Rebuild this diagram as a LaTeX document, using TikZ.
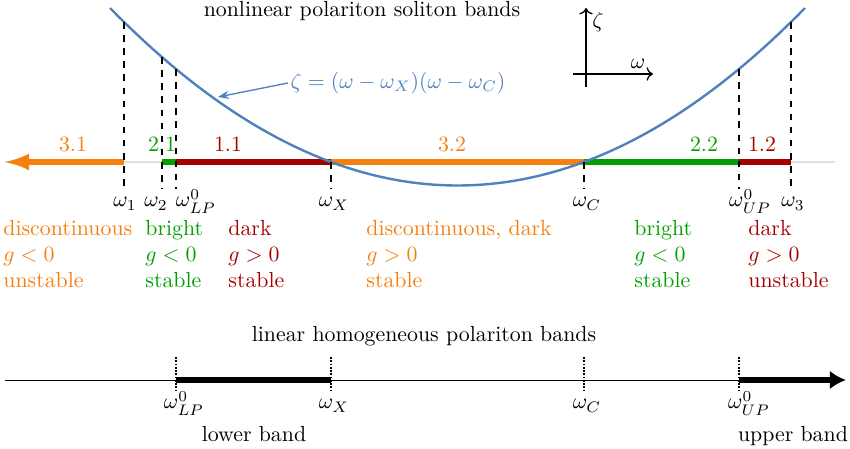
\documentclass[tikz,border=0pt]{standalone}
\usetikzlibrary{arrows.meta}
\definecolor{solorange}{RGB}{245,128,15}
\definecolor{solgreen}{RGB}{0,160,0}
\definecolor{soldark}{RGB}{165,0,0}
\definecolor{curveblue}{RGB}{79,129,189}

\begin{document}
\begin{tikzpicture}[x=0.0161cm, y=-0.0161cm,
    band/.style={line width=2.75pt},
    lbl/.style={anchor=base, inner sep=0pt},
    info/.style={anchor=base west, align=left, inner sep=0pt}]
  \useasboundingbox (0,0) rectangle (850,449);
  % nonlinear soliton bands
  \node[lbl] (toptitle) at (362,17) {nonlinear polariton soliton bands};
  \draw[gray!25, semithick] (5,162) -- (835,162);
  \foreach \n/\x in {w1/124, w2/162, wlp/176, wx/331, wc/584, wup/739, w3/791}{
    \coordinate (\n) at (\x,162);
  }
  \coordinate (wleft) at (3,162);
  \draw[band, solorange, -{Latex[length=0.42cm,width=0.27cm]}] (w1) -- (wleft);
  \foreach \a/\b/\c in {w2/wlp/solgreen, wlp/wx/soldark, wx/wc/solorange, wc/wup/solgreen, wup/w3/soldark}{
    \draw[band, \c] (\a) -- (\b);
  }
  \foreach \n/\x/\c/\txt in {b31/73/solorange/3.1, b21/162/solgreen/2.1, b11/228/soldark/1.1,
      b32/452/solorange/3.2, b22/704/solgreen/2.2, b12/762/soldark/1.2}{
    \node[lbl, text=\c] (\n) at (\x,152) {\txt};
  }
  \draw[curveblue, line width=1.1pt] plot[domain=110:805, samples=80]
    (\x, {162-14.7*(\x-331)/100*(\x-584)/100});
  \foreach \n/\x/\lx/\txt in {w1/124/125/{\omega_1}, w2/162/156/{\omega_2}, wlp/176/196/{\omega^0_{LP}},
      wx/331/334/{\omega_X}, wc/584/587/{\omega_C}, wup/739/750/{\omega^0_{UP}}, w3/791/793/{\omega_3}}{
    \draw[dashed, semithick] (\x, {162-14.7*(\x-331)/100*(\x-584)/100}) -- (\x,189);
    \node[lbl] (l\n) at (\lx,207) {$\txt$};
  }
  \node[text=curveblue, anchor=west, inner sep=1pt] (eq) at (288,83)
    {$\zeta=(\omega-\omega_X)(\omega-\omega_C)$};
  \coordinate (hit) at (218,97);
  \draw[curveblue, semithick, -{Stealth[length=5pt]}] (eq.west) -- (hit);
  % small axes
  \draw[->, semithick] (586,87) -- (586,8);
  \draw[->, semithick] (573,74) -- (653,74);
  \node (zeta) at (598,22) {$\zeta$};
  \node (omega) at (638,64) {$\omega$};
  % soliton types (base = last line)
  \node[info, text=solorange] (i31) at (3,288) {discontinuous\\ $g<0$\\ unstable};
  \node[info, text=solgreen] (i21) at (145,288) {bright\\ $g<0$\\ stable};
  \node[info, text=soldark] (i11) at (228,288) {dark\\ $g>0$\\ stable};
  \node[info, text=solorange] (i32) at (366,288) {discontinuous, dark\\ $g>0$\\ stable};
  \node[info, text=solgreen] (i22) at (634,288) {bright\\ $g<0$\\ stable};
  \node[info, text=soldark] (i12) at (748,288) {dark\\ $g>0$\\ unstable};
  % linear bands
  \node[lbl] (bottitle) at (424,342) {linear homogeneous polariton bands};
  \draw[thin] (5,380) -- (838,380);
  \foreach \n/\x in {blp/176, bx/331, bc/584, bup/739}{
    \coordinate (\n) at (\x,380);
  }
  \coordinate (bright) at (846,380);
  \draw[band] (blp) -- (bx);
  \draw[band, -{Latex[length=0.26cm,width=0.3cm]}] (bup) -- (bright);
  \foreach \n/\x/\lx/\txt in {blp/176/184/{\omega^0_{LP}}, bx/331/334/{\omega_X},
      bc/584/587/{\omega_C}, bup/739/749/{\omega^0_{UP}}}{
    \draw[dash pattern=on 0.8pt off 0.7pt, semithick] (\x,357) -- (\x,391);
    \node[lbl] (l\n) at (\lx,409) {$\txt$};
  }
  \node[lbl] (lower) at (254,442) {lower band};
  \node[lbl] (upper) at (793,442) {upper band};
\end{tikzpicture}
\end{document}
